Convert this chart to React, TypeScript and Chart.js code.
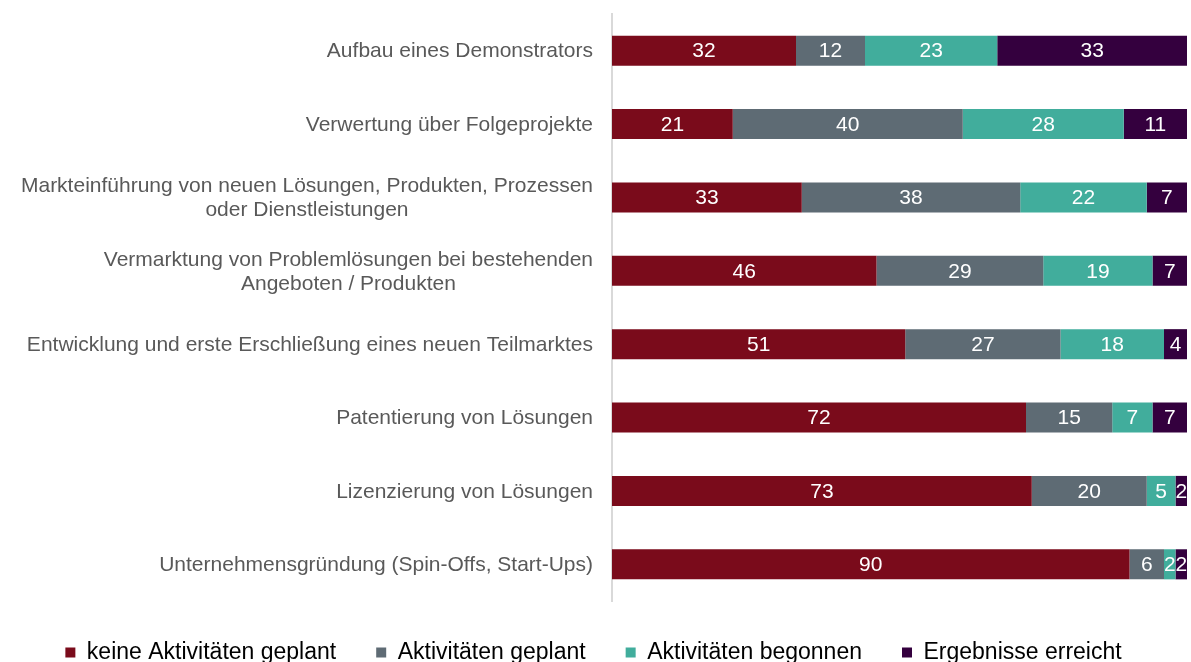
import React, { useEffect, useRef } from "react";
import { Chart, registerables } from "chart.js";

Chart.register(...registerables);

const categories: (string | string[])[] = [
  "Aufbau eines Demonstrators",
  "Verwertung über Folgeprojekte",
  ["Markteinführung von neuen Lösungen, Produkten, Prozessen", "oder Dienstleistungen"],
  ["Vermarktung von Problemlösungen bei bestehenden", "Angeboten / Produkten"],
  "Entwicklung und erste Erschließung eines neuen Teilmarktes",
  "Patentierung von Lösungen",
  "Lizenzierung von Lösungen",
  "Unternehmensgründung (Spin-Offs, Start-Ups)",
];

const seriesNames = [
  "keine Aktivitäten geplant",
  "Aktivitäten geplant",
  "Aktivitäten begonnen",
  "Ergebnisse erreicht",
];

const keineGeplant = [32, 21, 33, 46, 51, 72, 73, 90];
const geplant = [12, 40, 38, 29, 27, 15, 20, 6];
const begonnen = [23, 28, 22, 19, 18, 7, 5, 2];
const erreicht = [33, 11, 7, 7, 4, 7, 2, 2];

const colors = ["#7a0b1b", "#5e6b74", "#41ad9c", "#34003e"];

const FONT = '"Liberation Sans", Arial, sans-serif';

const dataLabelPlugin = {
  id: "dataLabels",
  afterDatasetsDraw(chart: any) {
    const ctx = chart.ctx;
    const area = chart.chartArea;
    ctx.save();
    ctx.font = `21px ${FONT}`;
    ctx.fillStyle = "#ffffff";
    ctx.textAlign = "center";
    ctx.textBaseline = "middle";
    chart.data.datasets.forEach((ds: any, di: number) => {
      const meta = chart.getDatasetMeta(di);
      meta.data.forEach((el: any, i: number) => {
        const v = ds.data[i];
        const a = Math.max(Math.min(el.base, el.x), area.left);
        const b = Math.min(Math.max(el.base, el.x), area.right);
        ctx.fillText(String(v), (a + b) / 2, el.y + 1);
      });
    });
    ctx.restore();
  },
};

const yLabelPlugin = {
  id: "yLabels",
  afterDraw(chart: any) {
    const ctx = chart.ctx;
    const y = chart.scales.y;
    const right = 593;
    const lh = 24;
    ctx.save();
    ctx.font = `21px ${FONT}`;
    ctx.fillStyle = "#595959";
    ctx.textAlign = "center";
    ctx.textBaseline = "middle";
    categories.forEach((lab, i) => {
      const lines = Array.isArray(lab) ? lab : [lab];
      const w = Math.max(...lines.map((l) => ctx.measureText(l).width));
      const cx = right - w / 2;
      const cy = y.getPixelForValue(i) + 1;
      const start = cy - ((lines.length - 1) * lh) / 2;
      lines.forEach((l, k) => ctx.fillText(l, cx, start + k * lh));
    });
    ctx.restore();
  },
};

export default function App() {
  const ref = useRef<HTMLCanvasElement | null>(null);
  useEffect(() => {
    if (!ref.current) return;
    const seriesData = [keineGeplant, geplant, begonnen, erreicht];
    const chart = new Chart(ref.current, {
      type: "bar",
      data: {
        labels: categories.map((c) => (Array.isArray(c) ? c.join(" ") : c)),
        datasets: seriesNames.map((name, i) => ({
          label: name,
          data: seriesData[i],
          backgroundColor: colors[i],
          borderWidth: 0,
          barPercentage: 0.41,
          categoryPercentage: 1,
        })),
      },
      options: {
        indexAxis: "y",
        animation: false,
        responsive: true,
        maintainAspectRatio: false,
        layout: { padding: { top: 14, right: 4, left: 0, bottom: 0 } },
        scales: {
          x: {
            stacked: true,
            min: 0,
            max: 100,
            display: false,
          },
          y: {
            stacked: true,
            grid: { display: false },
            border: { display: true, color: "#d9d9d9", width: 2 },
            ticks: { display: false },
            afterFit: (s: any) => {
              s.width = 612;
            },
          },
        },
        plugins: {
          legend: {
            position: "bottom",
            labels: {
              boxWidth: 10,
              boxHeight: 10,
              padding: 40,
              color: "#000000",
              font: { size: 23, family: FONT },
            },
          },
          tooltip: { enabled: false },
        },
      },
      plugins: [dataLabelPlugin, yLabelPlugin],
    });
    return () => chart.destroy();
  }, []);

  return (
    <div
      style={{
        position: "absolute",
        left: 0,
        top: 0,
        width: 1191,
        height: 662,
        overflow: "hidden",
        background: "#fff",
      }}
    >
      <div style={{ position: "relative", width: 1191, height: 674 }}>
        <canvas ref={ref} />
      </div>
    </div>
  );
}
